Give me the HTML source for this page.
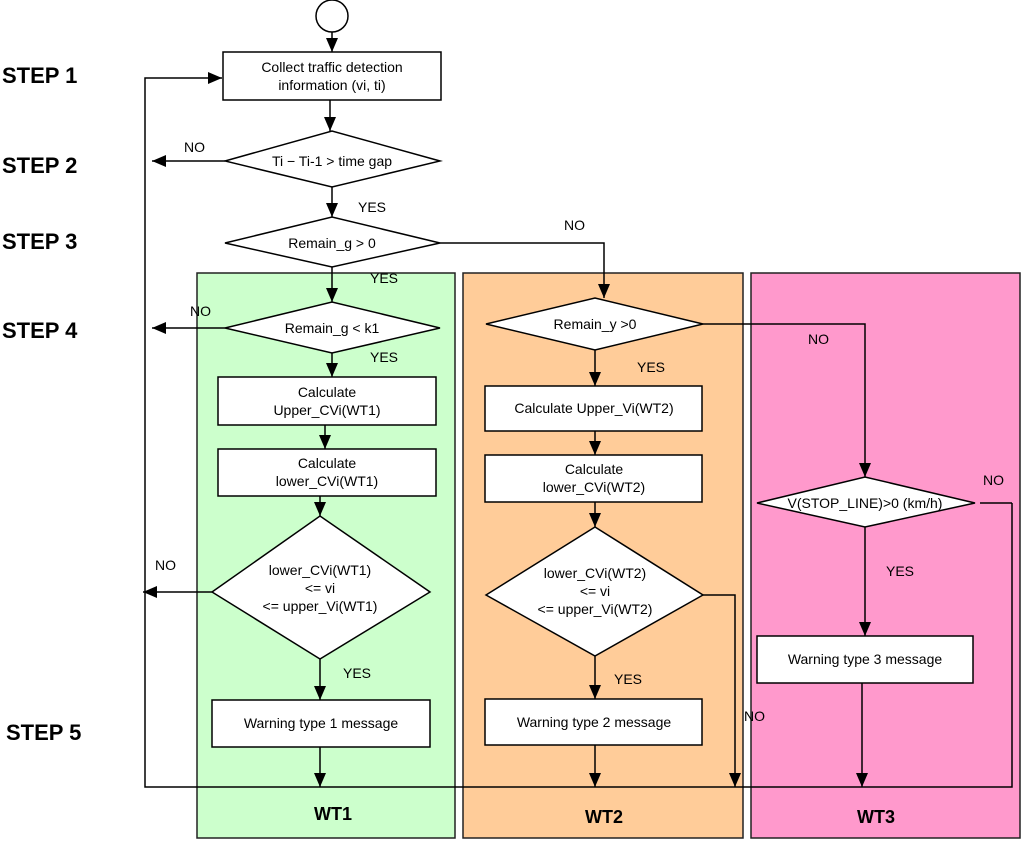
<!DOCTYPE html>
<html><head><meta charset="utf-8"><style>
html,body{margin:0;padding:0;background:#fff;}
svg{display:block;}
text{font-family:"Liberation Sans",Arial,sans-serif;fill:#000;}
.t{font-size:14px;text-anchor:middle;}
.s{font-size:22px;font-weight:bold;}
.w{font-size:18px;font-weight:bold;text-anchor:middle;}
.l{font-size:14px;}
</style></head><body>
<svg width="1024" height="841" viewBox="0 0 1024 841" xmlns="http://www.w3.org/2000/svg">
<defs><marker id="a" markerWidth="10" markerHeight="10" refX="9" refY="5" orient="auto" markerUnits="userSpaceOnUse"><path d="M0,0 L10,5 L0,10 z" fill="#000"/></marker>
<marker id="b" markerWidth="14" markerHeight="12" refX="14" refY="6" orient="auto" markerUnits="userSpaceOnUse"><path d="M0,0 L14,6 L0,12 z" fill="#000"/></marker></defs>
<g stroke="#222" stroke-width="1.5">
<rect x="197" y="273" width="258" height="565" fill="#ccffcc"/>
<rect x="463" y="273" width="280" height="565" fill="#ffcc99"/>
<rect x="751" y="273" width="269" height="565" fill="#ff99cc"/>
</g>
<g fill="#fff" stroke="#000" stroke-width="1.5">
<circle cx="332" cy="16" r="16"/>
<rect x="223" y="52" width="218" height="48"/>
<polygon points="225,161 332,131 440,161 332,187"/>
<polygon points="225,243 332,217 440,243 332,267"/>
<polygon points="225,328 332,302 440,328 332,353"/>
<rect x="218" y="377" width="218" height="48"/>
<rect x="218" y="449" width="218" height="47"/>
<polygon points="212,592 320,516 430,592 320,659"/>
<rect x="212" y="700" width="218" height="47"/>
<polygon points="486,324 595,298 703,324 595,350"/>
<rect x="485" y="386" width="217" height="45"/>
<rect x="485" y="455" width="217" height="47"/>
<polygon points="486,595 595,527 703,595 595,656"/>
<rect x="485" y="699" width="217" height="46"/>
<polygon points="757,503 865,477 975,503 865,527"/>
<rect x="757" y="636" width="216" height="47"/>
</g>
<g stroke="#000" stroke-width="1.5" fill="none">
<line x1="332" y1="32" x2="332" y2="52" marker-end="url(#b)"/>
<line x1="330" y1="100" x2="330" y2="131" marker-end="url(#b)"/>
<line x1="225" y1="161" x2="152" y2="161" marker-end="url(#b)"/>
<line x1="332" y1="187" x2="332" y2="217" marker-end="url(#b)"/>
<polyline points="440,243 604,243 604,298" marker-end="url(#b)"/>
<line x1="332" y1="267" x2="332" y2="302" marker-end="url(#b)"/>
<line x1="225" y1="328" x2="152" y2="328" marker-end="url(#b)"/>
<line x1="332" y1="353" x2="332" y2="377" marker-end="url(#b)"/>
<line x1="325" y1="425" x2="325" y2="449" marker-end="url(#b)"/>
<line x1="320" y1="496" x2="320" y2="516" marker-end="url(#b)"/>
<line x1="212" y1="592" x2="143" y2="592" marker-end="url(#b)"/>
<line x1="320" y1="659" x2="320" y2="700" marker-end="url(#b)"/>
<line x1="320" y1="747" x2="320" y2="787" marker-end="url(#b)"/>
<polyline points="1012,503 1012,787 145,787 145,78 222,78" marker-end="url(#b)"/>
<line x1="980" y1="503" x2="1012" y2="503"/>
<line x1="595" y1="350" x2="595" y2="386" marker-end="url(#b)"/>
<polyline points="703,324 865,324 865,477" marker-end="url(#b)"/>
<line x1="595" y1="431" x2="595" y2="455" marker-end="url(#b)"/>
<line x1="595" y1="502" x2="595" y2="527" marker-end="url(#b)"/>
<polyline points="703,595 735,595 735,787" marker-end="url(#b)"/>
<line x1="595" y1="656" x2="595" y2="699" marker-end="url(#b)"/>
<line x1="595" y1="745" x2="595" y2="787" marker-end="url(#b)"/>
<line x1="865" y1="527" x2="865" y2="636" marker-end="url(#b)"/>
<line x1="862" y1="683" x2="862" y2="787" marker-end="url(#b)"/>
</g>
<text class="s" x="2" y="83">STEP 1</text>
<text class="s" x="2" y="173">STEP 2</text>
<text class="s" x="2" y="249">STEP 3</text>
<text class="s" x="2" y="338">STEP 4</text>
<text class="s" x="6" y="740">STEP 5</text>
<text class="t" x="332" y="72">Collect traffic detection</text>
<text class="t" x="332" y="90">information (vi, ti)</text>
<text class="t" x="332" y="166">Ti − Ti-1 &gt; time gap</text>
<text class="t" x="332" y="248">Remain_g &gt; 0</text>
<text class="t" x="332" y="333">Remain_g &lt; k1</text>
<text class="t" x="327" y="397">Calculate</text>
<text class="t" x="327" y="415">Upper_CVi(WT1)</text>
<text class="t" x="327" y="468">Calculate</text>
<text class="t" x="327" y="486">lower_CVi(WT1)</text>
<text class="t" x="320" y="575">lower_CVi(WT1)</text>
<text class="t" x="320" y="593">&lt;= vi</text>
<text class="t" x="320" y="611">&lt;= upper_Vi(WT1)</text>
<text class="t" x="321" y="728">Warning type 1 message</text>
<text class="t" x="595" y="329">Remain_y &gt;0</text>
<text class="t" x="594" y="413">Calculate Upper_Vi(WT2)</text>
<text class="t" x="594" y="474">Calculate</text>
<text class="t" x="594" y="492">lower_CVi(WT2)</text>
<text class="t" x="595" y="578">lower_CVi(WT2)</text>
<text class="t" x="595" y="596">&lt;= vi</text>
<text class="t" x="595" y="614">&lt;= upper_Vi(WT2)</text>
<text class="t" x="594" y="727">Warning type 2 message</text>
<text class="t" x="865" y="508">V(STOP_LINE)&gt;0 (km/h)</text>
<text class="t" x="865" y="664">Warning type 3 message</text>
<text class="l" x="184" y="152">NO</text>
<text class="l" x="358" y="212">YES</text>
<text class="l" x="564" y="230">NO</text>
<text class="l" x="370" y="283">YES</text>
<text class="l" x="190" y="316">NO</text>
<text class="l" x="370" y="362">YES</text>
<text class="l" x="637" y="372">YES</text>
<text class="l" x="808" y="344">NO</text>
<text class="l" x="983" y="485">NO</text>
<text class="l" x="886" y="576">YES</text>
<text class="l" x="155" y="570">NO</text>
<text class="l" x="343" y="678">YES</text>
<text class="l" x="614" y="684">YES</text>
<text class="l" x="744" y="721">NO</text>
<text class="w" x="333" y="820">WT1</text>
<text class="w" x="604" y="823">WT2</text>
<text class="w" x="876" y="823">WT3</text>
</svg>
</body></html>
